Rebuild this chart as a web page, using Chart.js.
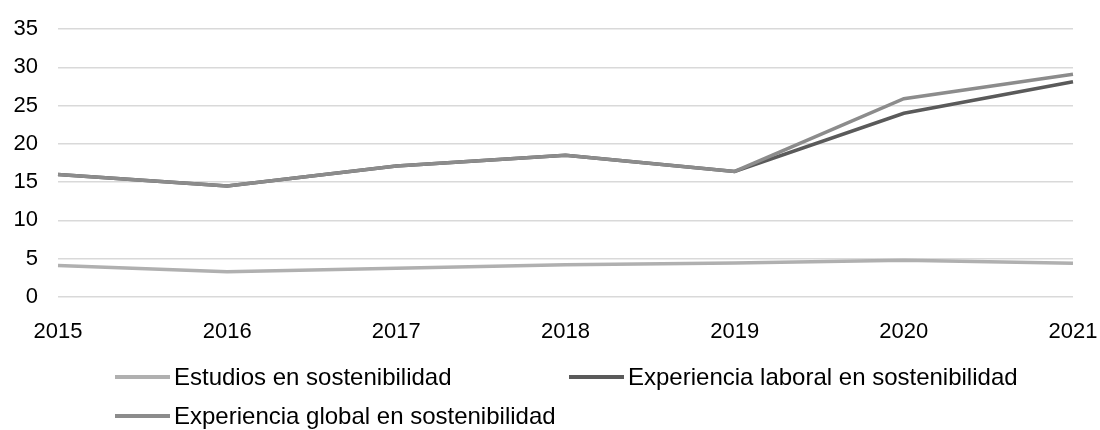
<!DOCTYPE html>
<html>
<head>
<meta charset="utf-8">
<script src="https://cdn.jsdelivr.net/npm/chart.js@4"></script>
<style>
  html, body { margin: 0; padding: 0; background: #fff; }
  #wrap { position: relative; width: 1100px; height: 430px; }
  #box { position: absolute; left: 0; top: 0; width: 1100px; height: 345px; }
  #legend { position: absolute; left: 0; top: 0; width: 1100px; height: 430px; pointer-events: none;
            font-family: "Liberation Sans", Arial, sans-serif; font-size: 24px; color: #000; }
  .item { position: absolute; display: flex; align-items: center; white-space: nowrap; height: 28px; }
  .swatch { width: 55px; height: 4px; margin-right: 4px; }
</style>
</head>
<body>
<div id="wrap">
  <div id="box"><canvas id="myLineChart"></canvas></div>
  <div id="legend"></div>
</div>
<script>
// data

const years = ["2015", "2016", "2017", "2018", "2019", "2020", "2021"];
const estudios = [4.1, 3.3, 3.75, 4.2, 4.45, 4.8, 4.4];
const laboral = [16.0, 14.5, 17.1, 18.5, 16.4, 24.0, 28.1];
const global = [16.0, 14.5, 17.1, 18.5, 16.4, 25.9, 29.1];
const yTicks = [0, 5, 10, 15, 20, 25, 30, 35];

const names = [
  "Estudios en sostenibilidad",
  "Experiencia laboral en sostenibilidad",
  "Experiencia global en sostenibilidad",
];
const colors = ["#b0b0b0", "#5a5a5a", "#8c8c8c"];

const font = "'Liberation Sans', Arial, sans-serif";

const data = {
  labels: years,
  datasets: [
    { label: names[0], data: estudios, borderColor: colors[0], backgroundColor: colors[0], order: 2 },
    { label: names[1], data: laboral, borderColor: colors[1], backgroundColor: colors[1], order: 1 },
    { label: names[2], data: global, borderColor: colors[2], backgroundColor: colors[2], order: 0 },
  ].map(d => Object.assign(d, { borderWidth: 3.5, pointRadius: 0, tension: 0, fill: false })),
};

const config = {
  type: "line",
  data: data,
  options: {
    responsive: true,
    maintainAspectRatio: false,
    animation: false,
    layout: { padding: { top: 29, right: 27, left: 0, bottom: 0 } },
    plugins: { legend: { display: false }, tooltip: { enabled: false } },
    scales: {
      x: {
        offset: false,
        grid: { display: false },
        border: { display: false },
        ticks: { color: "#000", font: { family: font, size: 22 }, padding: 14, maxRotation: 0 },
        afterFit: s => { s.height = 48; s.paddingLeft = 0; s.paddingRight = 0; },
      },
      y: {
        min: 0,
        max: 35,
        afterBuildTicks: s => { s.ticks = yTicks.map(v => ({ value: v })); },
        grid: { color: "#d9d9d9", lineWidth: 1.5, drawTicks: false },
        border: { display: false },
        ticks: { color: "#000", font: { family: font, size: 22 }, padding: 20 },
        afterFit: s => { s.width = 58; s.paddingTop = 0; s.paddingBottom = 0; },
      },
    },
  },
};

const ctx = document.getElementById("myLineChart").getContext("2d");
const myLineChart = new Chart(ctx, config);

// legend laid out like the original (two columns, left aligned)
const spots = [[115, 377], [569, 377], [115, 416]];
const legend = document.getElementById("legend");
data.datasets.forEach((d, i) => {
  const el = document.createElement("div");
  el.className = "item";
  el.style.left = spots[i][0] + "px";
  el.style.top = (spots[i][1] - 14) + "px";
  el.innerHTML = '<span class="swatch" style="background:' + d.borderColor + '"></span><span>' + d.label + '</span>';
  legend.appendChild(el);
});
</script>
</body>
</html>
